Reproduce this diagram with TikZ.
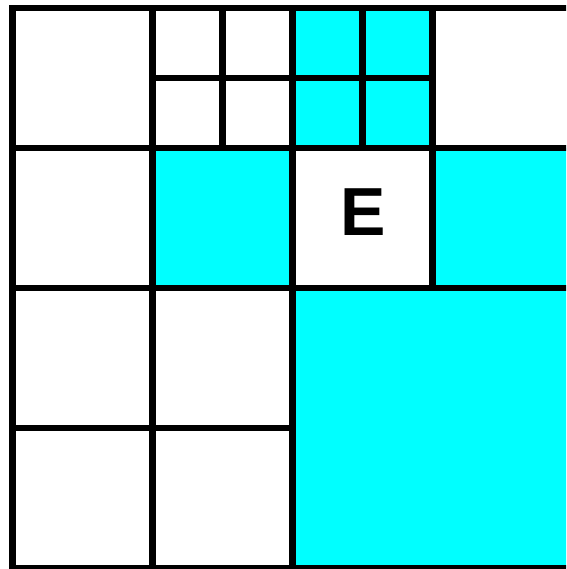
\documentclass[tikz,border=0pt]{standalone}
\usepackage{fontspec}
\setmainfont{Liberation Sans}
\definecolor{aqua}{RGB}{0,255,255}
\begin{document}
\begin{tikzpicture}[x=1pt,y=-1pt,
  gridline/.style={line width=6.5pt,line cap=rect},
  cyancell/.style={fill=aqua}]
\useasboundingbox (0,0) rectangle (566,569);
\clip (0,0) rectangle (566,569);
\fill[white] (0,0) rectangle (566,569);
% cyan regions
\fill[cyancell] (292.5,8) rectangle (432.5,148);
\fill[cyancell] (152.5,148) rectangle (292.5,288);
\fill[cyancell] (432.5,148) rectangle (572.5,288);
\fill[cyancell] (292.5,288) rectangle (572.5,568);
% main grid outline and lines
\draw[gridline] (12.5,8) -- (572.5,8);
\draw[gridline] (12.5,148) -- (572.5,148);
\draw[gridline] (12.5,288) -- (572.5,288);
\draw[gridline] (12.5,428) -- (292.5,428);
\draw[gridline] (12.5,568) -- (572.5,568);
\draw[gridline] (12.5,8) -- (12.5,568);
\draw[gridline] (152.5,8) -- (152.5,568);
\draw[gridline] (292.5,8) -- (292.5,568);
\draw[gridline] (432.5,8) -- (432.5,288);
% subdivisions in top row
\draw[gridline] (222.5,8) -- (222.5,148);
\draw[gridline] (362.5,8) -- (362.5,148);
\draw[gridline] (152.5,78) -- (432.5,78);
% label
\node[font=\fontsize{68}{68}\selectfont\bfseries, inner sep=0pt] (e) at (363,212) {E};
\end{tikzpicture}
\end{document}
